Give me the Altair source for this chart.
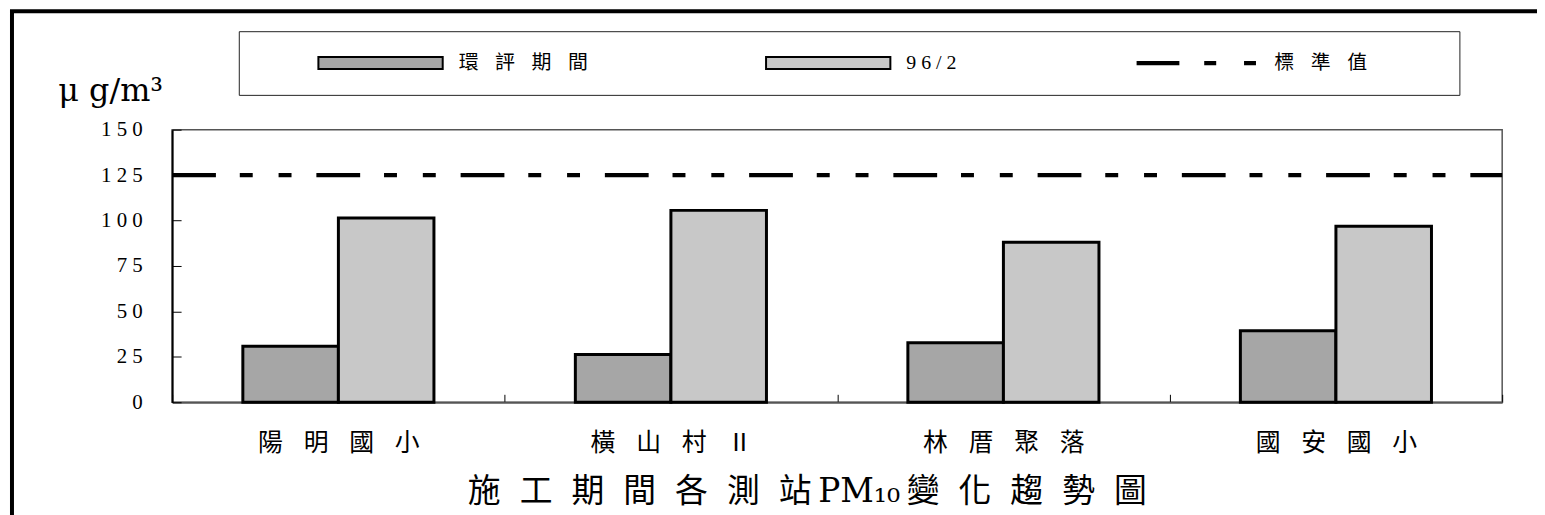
import altair as alt
import pandas as pd

# ---- data ----
stations = ["陽明國小", "橫山村Ⅱ", "林厝聚落", "國安國小"]
series = ["環評期間", "96/2"]
eia_values = [30.8, 26.3, 32.8, 39.4]
feb96_values = [101.4, 105.6, 88.1, 96.9]
standard_label = "標準值"
standard_value = [125]
y_ticks = [0, 25, 50, 75, 100, 125, 150]
title_left = "施工期間各測站"
title_mid = "PM₁₀"
title_right = "變化趨勢圖"
unit_text = "μ g/m³"

rows = []
for i, st in enumerate(stations):
    rows.append({"station": st, "series": series[0], "value": eia_values[i]})
    rows.append({"station": st, "series": series[1], "value": feb96_values[i]})
df = pd.DataFrame(rows)
std_df = pd.DataFrame({"value": standard_value})
all_series = series + [standard_label]
legend_df = pd.DataFrame({"series": all_series})

W, H = 1337, 274
SERIF = "Liberation Serif, Noto Sans CJK TC, serif"
TITLE_FONT = "DejaVu Serif, Noto Sans CJK TC, serif"
sp_title = "\u2004\u2005"
title_text = (sp_title.join(title_left) + "\u2009" + title_mid + "\u2009"
              + sp_title.join(title_right))

rect_path = "M-11.36,-1.09H11.36V1.09H-11.36Z"
dash_path = ("M-10.91,-0.39H-3.09V0.39H-10.91Z"
             "M1.45,-0.39H3.64V0.39H1.45Z"
             "M8.73,-0.39H10.91V0.39H8.73Z")

color_scale = alt.Scale(domain=all_series, range=["#a6a6a6", "#c8c8c8", "#000000"])

legend = alt.Legend(
    title=None, orient="none", legendX=67, legendY=-99,
    direction="horizontal", columns=3, columnPadding=120,
    padding=22, strokeColor="#222",
    symbolSize=121, symbolStrokeWidth=2, symbolOpacity=1,
    symbolOffset=58 + 52.5, labelOffset=68.5,
    labelFont=SERIF, labelFontSize=20, labelColor="black", labelLimit=0,
    labelExpr=("datum.label == '96/2' ? join(split(datum.label, ''), '\u2005') : "
               "(join(split(datum.label, ''), '\u2002\u2004') + "
               "(datum.label == '標準值' ? '\u3000\u3000\u3000\u2002\u200b' : ''))"),
)

y_axis = alt.Axis(
    orient="right", offset=-W, values=y_ticks,
    title=unit_text, titleX=-115, titleY=-29, titleAngle=0,
    titleAlign="left", titleBaseline="alphabetic",
    titleFont="DejaVu Serif", titleFontSize=32,
    titleFontWeight="normal", titleColor="black",
    labelFont="Liberation Serif", labelFontSize=21, labelColor="black",
    labelAlign="right", labelPadding=-39, labelFlush=False,
    labelExpr="join(split(datum.label, ''), ' ')",
    tickSize=9, tickColor="black", tickWidth=1,
    domainColor="black", domainWidth=2, grid=False)

y_scale = alt.Scale(domain=[0, 150], nice=False)

bars = alt.Chart(df).mark_bar(stroke="black", strokeWidth=3).encode(
    x=alt.X("station:N", sort=stations,
            scale=alt.Scale(paddingInner=0, paddingOuter=0),
            axis=alt.Axis(
                orient="top", offset=-H, title=title_text,
                titleFont=TITLE_FONT, titleFontSize=33, titleFontWeight="normal",
                titleColor="black", titleX=638, titleY=90, titleAlign="center",
                titleBaseline="middle", titleAngle=0,
                labelExpr="join(split(datum.label, ''), '\u2002\u2004')",
                labelFont=SERIF, labelFontSize=25, labelColor="black",
                labelAngle=0, labelPadding=-48, labelBaseline="middle",
                labelOverlap=False, labelLimit=0,
                tickBand="extent", tickSize=8, tickColor="black", tickWidth=1,
                domainColor="#555", domainWidth=2, grid=False)),
    xOffset=alt.XOffset("series:N", sort=series,
                        scale=alt.Scale(domain=series, paddingInner=0, paddingOuter=0.74)),
    y=alt.Y("value:Q", scale=y_scale, axis=y_axis),
    color=alt.Color("series:N", scale=color_scale, legend=legend),
)

rule = alt.Chart(std_df).mark_rule(
    color="black", strokeWidth=4.3,
    strokeDash=[13, 26, 13, 24, 44, 25], strokeDashOffset=88,
).encode(y=alt.Y("value:Q", scale=y_scale, axis=y_axis))

legend_layer = alt.Chart(legend_df).mark_point(filled=True, opacity=0).encode(
    color=alt.Color("series:N", scale=color_scale, legend=legend),
    shape=alt.Shape("series:N",
                    scale=alt.Scale(domain=all_series, range=[rect_path, rect_path, dash_path]),
                    legend=legend),
    stroke=alt.Stroke("series:N",
                      scale=alt.Scale(domain=all_series, range=["black", "black", "transparent"]),
                      legend=legend),
)

frame = alt.Chart(alt.Data(values=[{}])).mark_rect(
    fill="transparent", stroke="black", strokeWidth=4
).encode(x=alt.value(-161), x2=alt.value(W + 100),
         y=alt.value(-119), y2=alt.value(H + 200))

chart = alt.layer(bars, rule, legend_layer, frame).properties(
    width=W, height=H,
    padding={"left": 165, "top": 121, "right": 35, "bottom": 112},
    autosize=alt.AutoSizeParams(type="none"),
    background="white",
).configure_view(stroke="#555", strokeWidth=1.5)

chart.save("out.html", embed_options={"renderer": "svg", "actions": False})
